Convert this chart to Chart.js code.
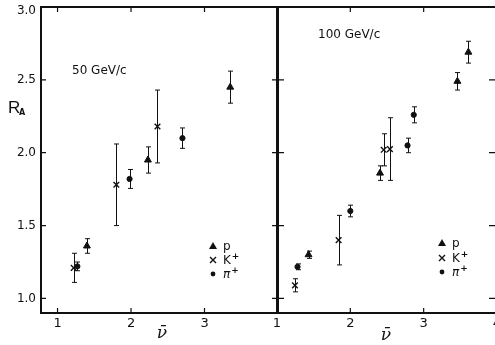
<!DOCTYPE html>
<html><head><meta charset="utf-8">
<script src="https://cdn.jsdelivr.net/npm/chart.js@4"></script>
<style>
html,body{margin:0;padding:0;background:#fff;overflow:hidden;width:495px;height:345px}
#wrap{position:relative;width:495px;height:345px;overflow:hidden;background:#fff}
#cA{position:absolute;left:0;top:0}
#cB{position:absolute;left:240px;top:0}
</style></head><body>
<div id="wrap"><canvas id="cA" width="290" height="345"></canvas><canvas id="cB" width="270" height="345"></canvas></div>
<script>
// ---- 50 GeV/c ----
const p50X  = [1.40, 2.23, 3.35];
const p50Y  = [1.36, 1.95, 2.45];
const p50E  = [0.05, 0.09, 0.11];
const k50X  = [1.22, 1.80, 2.36];
const k50Y  = [1.21, 1.78, 2.18];
const k50E  = [0.10, 0.28, 0.25];
const pi50X = [1.27, 1.98, 2.70];
const pi50Y = [1.22, 1.82, 2.10];
const pi50E = [0.03, 0.065, 0.07];
// ---- 100 GeV/c ----
const p100X  = [1.43, 2.405, 3.46, 3.61];
const p100Y  = [1.30, 1.86, 2.49, 2.69];
const p100E  = [0.025, 0.05, 0.06, 0.075];
const k100X  = [1.245, 1.84, 2.455, 2.54];
const k100Y  = [1.09, 1.40, 2.02, 2.025];
const k100E  = [0.045, 0.17, 0.11, 0.215];
const pi100X = [1.28, 2.00, 2.78, 2.865];
const pi100Y = [1.217, 1.60, 2.05, 2.26];
const pi100E = [0.02, 0.04, 0.05, 0.055];
// ---- ticks ----
const yTicks  = [1.0, 1.5, 2.0, 2.5, 3.0];
const xTicksA = [1, 2, 3];
const xTicksB = [1, 2, 3, 4];
const legendLabels = ['p', 'K', 'π'];

const ink = '#111';
const yMax = yTicks[yTicks.length - 1];
const toPts = (xs, ys, es) => xs.map((x, i) => ({x: x, y: ys[i], e: es[i]}));
function makeSets(pX,pY,pE,kX,kY,kE,piX,piY,piE){
  return [
    {label:'p', data:toPts(pX,pY,pE), pointStyle:'triangle', pointRadius:4, backgroundColor:ink, borderColor:ink, borderWidth:1},
    {label:'K+', data:toPts(kX,kY,kE), pointStyle:'crossRot', pointRadius:4, backgroundColor:ink, borderColor:ink, borderWidth:1.4},
    {label:'π+', data:toPts(piX,piY,piE), pointStyle:'circle', pointRadius:2.6, backgroundColor:ink, borderColor:ink, borderWidth:1}
  ];
}

const errPlugin = {
  id: 'errbars',
  beforeDatasetsDraw(chart) {
    const ctx = chart.ctx, ys = chart.scales.y;
    ctx.save(); ctx.strokeStyle = ink; ctx.lineWidth = 1;
    chart.data.datasets.forEach((ds, i) => {
      const meta = chart.getDatasetMeta(i);
      meta.data.forEach((el, j) => {
        const d = ds.data[j];
        const x = Math.round(el.x) + 0.5;
        const y1 = ys.getPixelForValue(d.y + d.e), y2 = ys.getPixelForValue(d.y - d.e);
        ctx.beginPath();
        ctx.moveTo(x, y1); ctx.lineTo(x, y2);
        ctx.moveTo(x - 2.5, y1); ctx.lineTo(x + 2.5, y1);
        ctx.moveTo(x - 2.5, y2); ctx.lineTo(x + 2.5, y2);
        ctx.stroke();
      });
    });
    ctx.restore();
  }
};

function drawMarker(ctx, kind, x, y) {
  ctx.save(); ctx.fillStyle = ink; ctx.strokeStyle = ink; ctx.lineWidth = 1.4;
  if (kind === 0) {
    ctx.beginPath(); ctx.moveTo(x, y - 4); ctx.lineTo(x + 4, y + 3); ctx.lineTo(x - 4, y + 3); ctx.closePath(); ctx.fill();
  } else if (kind === 1) {
    ctx.beginPath(); ctx.moveTo(x - 3, y - 3); ctx.lineTo(x + 3, y + 3); ctx.moveTo(x + 3, y - 3); ctx.lineTo(x - 3, y + 3); ctx.stroke();
  } else {
    ctx.beginPath(); ctx.arc(x, y, 2.4, 0, Math.PI * 2); ctx.fill();
  }
  ctx.restore();
}

function framePlugin(cfg) {
  return {
    id: 'frame',
    afterDraw(chart) {
      const ctx = chart.ctx, a = chart.chartArea, xs = chart.scales.x, ys = chart.scales.y;
      ctx.save();
      ctx.strokeStyle = ink; ctx.lineWidth = 2;
      ctx.strokeRect(a.left, a.top, a.right - a.left, a.bottom - a.top);
      ctx.lineWidth = 1.2;
      ctx.beginPath();
      cfg.xTicks.forEach(v => {
        const px = xs.getPixelForValue(v);
        if (px < a.left + 3 || px > a.right - 3) return;
        ctx.moveTo(px, a.top); ctx.lineTo(px, a.top + 5);
        ctx.moveTo(px, a.bottom); ctx.lineTo(px, a.bottom - 5);
      });
      yTicks.forEach(v => {
        const py = ys.getPixelForValue(v);
        if (py < a.top + 3 || py > a.bottom - 3) return;
        if (cfg.leftTicks) { ctx.moveTo(a.left, py); ctx.lineTo(a.left + 5, py); }
        if (cfg.rightTicks === 'both') { ctx.moveTo(a.right - 6, py); ctx.lineTo(a.right + 6, py); }
        else if (cfg.rightTicks) { ctx.moveTo(a.right, py); ctx.lineTo(a.right - 8, py); }
      });
      ctx.stroke();

      ctx.fillStyle = ink;
      // top y label (kept inside the canvas, as in the original)
      if (cfg.yTitle) {
        ctx.font = '12px "DejaVu Sans", sans-serif';
        ctx.textAlign = 'right'; ctx.textBaseline = 'middle';
        ctx.fillText(yMax.toFixed(1), a.left - 5, ys.getPixelForValue(yMax) + 3.5);
      }

      // title
      ctx.textBaseline = 'alphabetic';
      ctx.textAlign = 'left';
      ctx.font = '12px "DejaVu Sans", sans-serif';
      ctx.fillText(cfg.title, cfg.titleX, cfg.titleY);

      // legend
      cfg.legY.forEach((ly, i) => {
        drawMarker(ctx, i, cfg.legX, ly);
        ctx.font = (i === 2 ? 'italic ' : '') + '12px "DejaVu Sans", sans-serif';
        ctx.fillText(legendLabels[i], cfg.legX + 10, ly + 4);
        if (i > 0) {
          const w = ctx.measureText(legendLabels[i]).width;
          ctx.font = 'bold 9px "DejaVu Sans", sans-serif';
          ctx.fillText('+', cfg.legX + 11 + w, ly - 1);
        }
      });

      // x axis title (nu bar)
      ctx.font = 'italic 17px "DejaVu Serif", serif';
      ctx.textAlign = 'center';
      ctx.fillText('ν\u0304', cfg.nuX, cfg.nuY);

      if (cfg.yTitle) {
        ctx.textAlign = 'left';
        ctx.font = '17px "Liberation Sans", sans-serif';
        ctx.fillText('R', 8, 113);
        ctx.font = 'bold 8px "DejaVu Sans", sans-serif';
        ctx.fillText('A', 19, 115);
      }
      ctx.restore();
    }
  };
}

function makeChart(id, datasets, xmin, xmax, xTicks, showY, yWidth, padRight, cfg) {
  return new Chart(document.getElementById(id), {
    type: 'scatter',
    data: { datasets: datasets },
    options: {
      responsive: false, animation: false, events: [],
      layout: { padding: { top: 7, right: padRight, left: 0, bottom: 0 } },
      plugins: { legend: { display: false }, tooltip: { enabled: false } },
      scales: {
        x: {
          type: 'linear', min: xmin, max: xmax,
          afterBuildTicks: s => { s.ticks = xTicks.map(v => ({ value: v })); },
          grid: { display: false, drawTicks: false }, border: { display: false },
          ticks: { color: ink, font: { size: 13, family: '"DejaVu Sans", sans-serif' }, padding: 3, autoSkip: false, maxRotation: 0, callback: v => String(v) },
          afterFit: s => { s.height = 32; s.paddingLeft = 0; s.paddingRight = 0; }
        },
        y: {
          type: 'linear', min: 0.9, max: 3.0,
          afterBuildTicks: s => { s.ticks = yTicks.map(v => ({ value: v })); },
          grid: { display: false, drawTicks: false }, border: { display: false },
          ticks: { display: showY, color: ink, font: { size: 12, family: '"DejaVu Sans", sans-serif' }, padding: 5,
                   callback: v => (Math.abs(v - yMax) < 1e-9 ? '' : Number(v).toFixed(1)) },
          afterFit: s => { s.width = yWidth; s.paddingTop = 0; s.paddingBottom = 0; }
        }
      }
    },
    plugins: [errPlugin, framePlugin(cfg)]
  });
}

makeChart('cA', makeSets(p50X,p50Y,p50E,k50X,k50Y,k50E,pi50X,pi50Y,pi50E), 0.775, 4.0, xTicksA, true, 41, 12, {
  xTicks: xTicksA, leftTicks: true, rightTicks: 'both',
  title: '50 GeV/c', titleX: 72, titleY: 74,
  legX: 213, legY: [246, 260, 274],
  nuX: 162, nuY: 338, yTitle: true
});
makeChart('cB', makeSets(p100X,p100Y,p100E,k100X,k100Y,k100E,pi100X,pi100Y,pi100E), 1.0, 4.0, xTicksB, false, 37, 13, {
  xTicks: xTicksB, leftTicks: false, rightTicks: true,
  title: '100 GeV/c', titleX: 78, titleY: 38,
  legX: 202, legY: [243, 258, 272],
  nuX: 146, nuY: 340, yTitle: false
});
</script>
</body></html>
